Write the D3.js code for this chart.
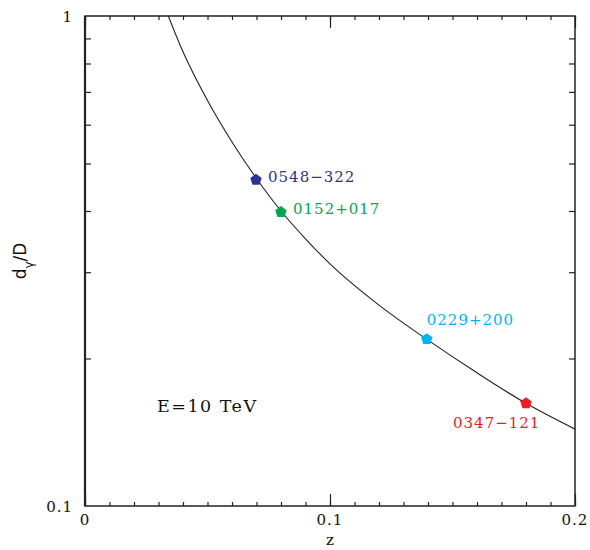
<!DOCTYPE html>
<html><head><meta charset="utf-8">
<script src="https://cdn.jsdelivr.net/npm/d3@7"></script>
<style>body{margin:0;background:#fff}svg{display:block}</style>
</head><body>
<svg id="c" width="590" height="550"></svg>
<script>
// Curve
const curveZ = [0.034, 0.04, 0.05, 0.06, 0.07, 0.08, 0.09, 0.10, 0.12, 0.14, 0.16, 0.18, 0.20];
const curveD = [1.0, 0.845, 0.672, 0.553, 0.466, 0.400, 0.351, 0.312, 0.257, 0.218, 0.187, 0.162, 0.1435];
// Sources
const srcNames = ["0548\u2212322", "0152+017", "0229+200", "0347\u2212121"];
const srcZ = [0.0698, 0.080, 0.1395, 0.180];
const srcD = [0.463, 0.398, 0.219, 0.162];
const srcColors = ["#2e3192", "#00a651", "#00b4f0", "#ed1c24"];
const xTickLabels = ["0", "0.1", "0.2"];
const yTickLabels = ["0.1", "1"];

const svg = d3.select("#c");
const L = 85, R = 575, T = 16, B = 506;
const x = d3.scaleLinear().domain([0, 0.2]).range([L, R]);
const y = d3.scaleLog().domain([0.1, 1]).range([B, T]);
const font = "'DejaVu Serif', serif";

svg.append("clipPath").attr("id", "clip").append("rect")
  .attr("x", L).attr("y", T).attr("width", R - L).attr("height", B - T);

const minorX = d3.range(0, 21).map(i => i / 100);
const majorX = [0, 0.1, 0.2];
const minorY = d3.range(2, 10).map(i => i / 10);

svg.append("g").attr("transform", `translate(0,${B})`)
  .call(d3.axisBottom(x).tickValues(minorX).tickSize(-4).tickFormat(""))
  .call(g => g.select(".domain").remove());
svg.append("g").attr("transform", `translate(0,${B})`)
  .call(d3.axisBottom(x).tickValues(majorX).tickSize(-12).tickFormat(""))
  .call(g => g.select(".domain").remove());
svg.append("g").attr("transform", `translate(0,${T})`)
  .call(d3.axisTop(x).tickValues(minorX).tickSize(-4).tickFormat(""))
  .call(g => g.select(".domain").remove());
svg.append("g").attr("transform", `translate(0,${T})`)
  .call(d3.axisTop(x).tickValues(majorX).tickSize(-12).tickFormat(""))
  .call(g => g.select(".domain").remove());
svg.append("g").attr("transform", `translate(${L},0)`)
  .call(d3.axisLeft(y).tickValues(minorY).tickSize(-6).tickFormat(""))
  .call(g => g.select(".domain").remove());
svg.append("g").attr("transform", `translate(${R},0)`)
  .call(d3.axisRight(y).tickValues(minorY).tickSize(-6).tickFormat(""))
  .call(g => g.select(".domain").remove());
svg.selectAll(".tick line").attr("stroke", "#222").attr("stroke-width", 1.2);

svg.append("rect").attr("x", L).attr("y", T).attr("width", R - L).attr("height", B - T)
  .attr("fill", "none").attr("stroke", "#222").attr("stroke-width", 1.5);
svg.append("line").attr("x1", L).attr("x2", L).attr("y1", T).attr("y2", B)
  .attr("stroke", "#222").attr("stroke-width", 2.2);

svg.selectAll(".xl").data(majorX).enter().append("text")
  .attr("x", d => x(d)).attr("y", B + 19).attr("text-anchor", "middle")
  .attr("font-family", font).attr("font-size", 15).attr("fill", "#111")
  .attr("letter-spacing", 1)
  .text((d, i) => xTickLabels[i]);
svg.selectAll(".yl").data([0.1, 1]).enter().append("text")
  .attr("x", L - 12).attr("y", d => y(d) + 6).attr("text-anchor", "end")
  .attr("font-family", font).attr("font-size", 15).attr("fill", "#111")
  .attr("letter-spacing", 1)
  .text((d, i) => yTickLabels[i]);

svg.append("text").attr("x", x(0.1)).attr("y", 545).attr("text-anchor", "middle")
  .attr("font-family", font).attr("font-size", 15).attr("fill", "#111").text("z");
const yt = svg.append("text").attr("transform", `translate(26,${(T + B) / 2}) rotate(-90)`)
  .attr("text-anchor", "middle").attr("font-family", "'DejaVu Sans', sans-serif")
  .attr("font-size", 17).attr("fill", "#111");
yt.append("tspan").text("d");
yt.append("tspan").attr("baseline-shift", "sub").attr("font-size", 12).text("\u03b3");
yt.append("tspan").text("/D");

svg.append("path").datum(curveZ.map((z, i) => [z, curveD[i]]))
  .attr("clip-path", "url(#clip)")
  .attr("fill", "none").attr("stroke", "#222").attr("stroke-width", 1.1)
  .attr("d", d3.line().x(d => x(d[0])).y(d => y(d[1])).curve(d3.curveMonotoneX));

function pentagon(r) {
  const pts = d3.range(5).map(k => {
    const a = -Math.PI / 2 + k * 2 * Math.PI / 5;
    return [r * Math.cos(a), r * Math.sin(a)];
  });
  return "M" + pts.map(p => p.join(",")).join("L") + "Z";
}
svg.selectAll(".mk").data(srcZ).enter().append("path")
  .attr("transform", (d, i) => `translate(${x(d)},${y(srcD[i])})`)
  .attr("d", pentagon(6)).attr("fill", (d, i) => srcColors[i]);

const lblOff = [[12, 2], [12, 2], [0, -14], [-73, 25]];
svg.selectAll(".lb").data(srcZ).enter().append("text")
  .attr("x", (d, i) => x(d) + lblOff[i][0]).attr("y", (d, i) => y(srcD[i]) + lblOff[i][1])
  .attr("font-family", font).attr("font-size", 15).attr("letter-spacing", 1)
  .attr("fill", (d, i) => srcColors[i])
  .text((d, i) => srcNames[i]);

svg.append("text").attr("x", 157).attr("y", 412)
  .attr("font-family", font).attr("font-size", 17.5).attr("letter-spacing", 1.5).attr("fill", "#111")
  .attr("xml:space", "preserve").text("E=10 TeV");
</script>
</body></html>
